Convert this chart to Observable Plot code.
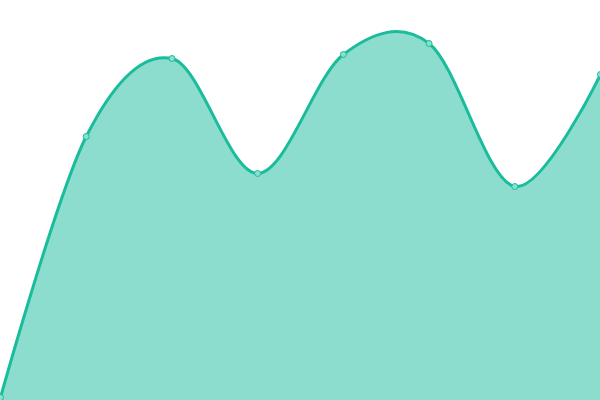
<!DOCTYPE html>
<html>
<head>
<meta charset="utf-8">
<script src="https://cdn.jsdelivr.net/npm/d3@7"></script>
<script src="https://cdn.jsdelivr.net/npm/@observablehq/plot@0.6"></script>
<style>
  html, body { margin: 0; padding: 0; background: #fff; }
  svg { display: block; }
</style>
</head>
<body>
<div id="chart"></div>
<script>
const xs = [0, 1, 2, 3, 4, 5, 6, 7];
const values = [3, 264, 342, 227, 346, 357, 214, 326];

const data = xs.map((x, i) => ({x, y: values[i]}));

const chart = Plot.plot({
  width: 600,
  height: 400,
  margin: 0,
  x: {domain: [0, 7], axis: null},
  y: {domain: [0, 400], axis: null},
  marks: [
    Plot.areaY(data, {x: "x", y: "y", curve: "cardinal", tension: 0, fill: "#1abc9c", fillOpacity: 0.5}),
    Plot.lineY(data, {x: "x", y: "y", curve: "cardinal", tension: 0, stroke: "#1abc9c", strokeWidth: 3}),
    Plot.dot(data, {x: "x", y: "y", r: 3, fill: "#8ae0cf", stroke: "#1abc9c", strokeWidth: 1})
  ]
});
document.getElementById("chart").appendChild(chart);
</script>
</body>
</html>
